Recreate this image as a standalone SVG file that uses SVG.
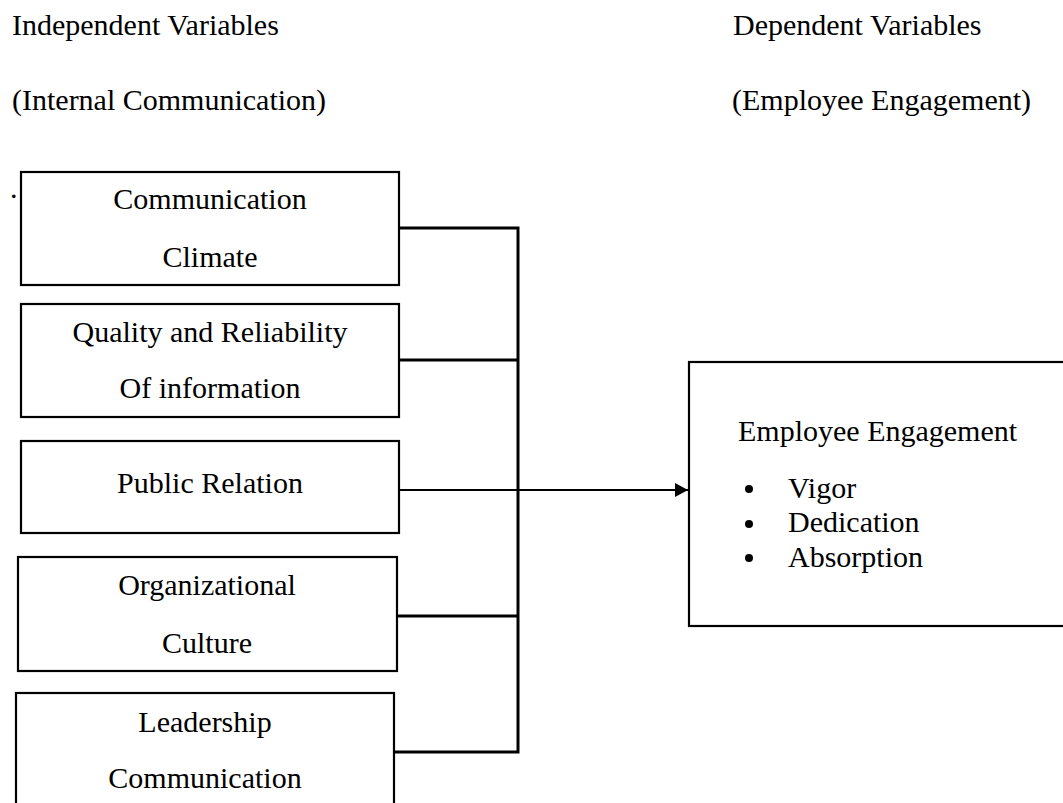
<svg xmlns="http://www.w3.org/2000/svg" width="1063" height="803" viewBox="0 0 1063 803">
<style>
text{font-family:"Liberation Serif","Times New Roman",serif;font-size:30px;fill:#000}
.c{text-anchor:middle}
.box{fill:#fff;stroke:#000;stroke-width:2.2}
.thick{stroke:#000;stroke-width:3;fill:none}
.thin{stroke:#000;stroke-width:2;fill:none}
</style>
<defs>
<marker id="ah" markerUnits="userSpaceOnUse" markerWidth="14" markerHeight="16" refX="13" refY="7" orient="auto">
<path d="M0,0 L13,7 L0,14 Z" fill="#000"/>
</marker>
</defs>
<rect width="1063" height="803" fill="#fff"/>
<g id="headers">
<text x="12" y="35">Independent Variables</text>
<text x="12" y="110">(Internal Communication)</text>
<text x="733" y="35">Dependent Variables</text>
<text x="732" y="110">(Employee Engagement)</text>
<text x="10" y="198">.</text>
</g>
<g id="connectors">
<polyline class="thick" points="393,228 518,228 518,752 394,752"/>
<line class="thick" x1="399" y1="360" x2="518" y2="360"/>
<line class="thick" x1="397" y1="616" x2="518" y2="616"/>
<line class="thin" x1="399" y1="490" x2="688" y2="490" marker-end="url(#ah)"/>
</g>
<g id="node-communication-climate">
<rect class="box" x="21" y="172" width="378" height="113"/>
<text class="c" x="210" y="209">Communication</text>
<text class="c" x="210" y="267">Climate</text>
</g>
<g id="node-quality">
<rect class="box" x="21" y="304" width="378" height="113"/>
<text class="c" x="210" y="342">Quality and Reliability</text>
<text class="c" x="210" y="398">Of information</text>
</g>
<g id="node-public-relation">
<rect class="box" x="21" y="441" width="378" height="92"/>
<text class="c" x="210" y="493">Public Relation</text>
</g>
<g id="node-organizational-culture">
<rect class="box" x="18" y="557" width="379" height="114"/>
<text class="c" x="207" y="595">Organizational</text>
<text class="c" x="207" y="653">Culture</text>
</g>
<g id="node-leadership">
<rect class="box" x="16" y="693" width="378" height="130"/>
<text class="c" x="205" y="732">Leadership</text>
<text class="c" x="205" y="788">Communication</text>
</g>
<g id="node-employee-engagement">
<rect class="box" x="689" y="362" width="390" height="264"/>
<text x="738" y="441">Employee Engagement</text>
<circle cx="749" cy="489" r="4"/>
<circle cx="749" cy="524" r="4"/>
<circle cx="749" cy="558" r="4"/>
<text x="788" y="498">Vigor</text>
<text x="788" y="532">Dedication</text>
<text x="788" y="567">Absorption</text>
</g>
</svg>
